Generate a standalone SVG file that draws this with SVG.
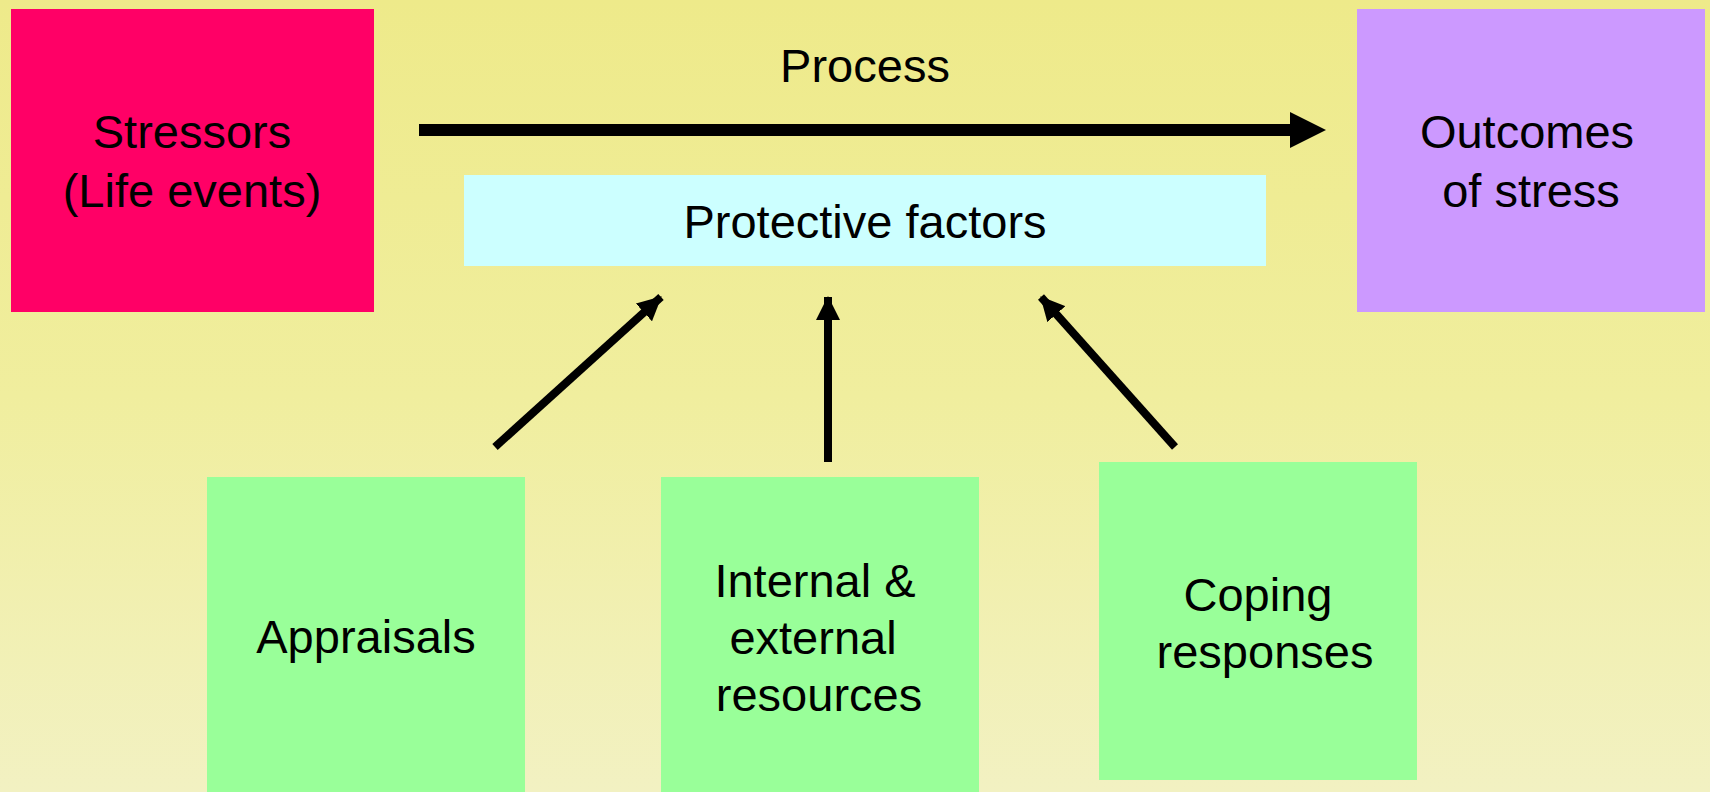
<svg xmlns="http://www.w3.org/2000/svg" width="1710" height="792" viewBox="0 0 1710 792">
  <defs>
    <linearGradient id="bg" x1="0" y1="0" x2="0" y2="1">
      <stop offset="0" stop-color="#EEEA8A"/>
      <stop offset="0.5" stop-color="#F0EE9E"/>
      <stop offset="1" stop-color="#F2F1C2"/>
    </linearGradient>
    <marker id="head" viewBox="0 0 24 24" refX="23" refY="12" markerWidth="24" markerHeight="24" markerUnits="userSpaceOnUse" orient="auto">
      <path d="M0,0 L24,12 L0,24 Z" fill="#000"/>
    </marker>
    <style>
      .lbl { font-family: "Liberation Sans", Arial, sans-serif; font-size: 47px; fill: #000; text-anchor: middle; }
      .link { stroke: #000; stroke-width: 8; fill: none; marker-end: url(#head); }
      .green { fill: #99FF99; }
    </style>
  </defs>

  <rect width="1710" height="792" fill="url(#bg)"/>

  <!-- main process arrow -->
  <g id="process">
    <text class="lbl" x="865" y="82">Process</text>
    <line x1="419" y1="130" x2="1292" y2="130" stroke="#000" stroke-width="12"/>
    <polygon points="1290,112 1326,130 1290,148" fill="#000"/>
  </g>

  <g id="stressors">
    <rect x="11" y="9" width="363" height="303" fill="#FF0066"/>
    <text class="lbl" x="192" y="148">Stressors</text>
    <text class="lbl" x="192" y="207">(Life events)</text>
  </g>

  <g id="outcomes">
    <rect x="1357" y="9" width="348" height="303" fill="#CC99FF"/>
    <text class="lbl" x="1527" y="148">Outcomes</text>
    <text class="lbl" x="1531" y="207">of stress</text>
  </g>

  <g id="protective">
    <rect x="464" y="175" width="802" height="91" fill="#CCFFFF"/>
    <text class="lbl" x="865" y="238">Protective factors</text>
  </g>

  <g id="appraisals">
    <rect class="green" x="207" y="477" width="318" height="315"/>
    <text class="lbl" x="366" y="653">Appraisals</text>
  </g>

  <g id="resources">
    <rect class="green" x="661" y="477" width="318" height="315"/>
    <text class="lbl" x="815" y="597">Internal &amp;</text>
    <text class="lbl" x="813" y="654">external</text>
    <text class="lbl" x="819" y="711">resources</text>
  </g>

  <g id="coping">
    <rect class="green" x="1099" y="462" width="318" height="318"/>
    <text class="lbl" x="1258" y="611">Coping</text>
    <text class="lbl" x="1265" y="668">responses</text>
  </g>

  <!-- influences on the protective factors -->
  <g id="connectors">
    <line class="link" x1="495" y1="447" x2="661" y2="297"/>
    <line class="link" x1="828" y1="462" x2="828" y2="297"/>
    <line class="link" x1="1175" y1="447" x2="1041" y2="297"/>
  </g>
</svg>
